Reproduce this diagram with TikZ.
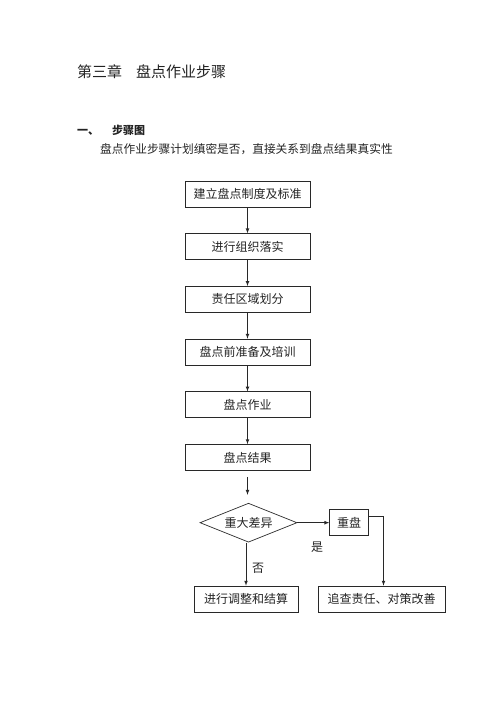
\documentclass[tikz,border=0pt]{standalone}
\usepackage{fontspec}
\setmainfont{Noto Sans CJK SC}
\usepackage{tikz}
\usetikzlibrary{positioning,shapes.geometric}
\definecolor{flowline}{RGB}{40,40,40}
\definecolor{flowtext}{RGB}{35,35,35}

\begin{document}
\begin{tikzpicture}[x=1pt, y=-1pt,
        node distance=26pt and 32pt,
        box/.style={draw=flowline, line width=0.7pt, minimum width=125pt, minimum height=26pt, inner sep=0pt, align=center, font=\fontsize{12}{14}\selectfont, text=flowtext},
        choice/.style={diamond, draw=flowline, line width=0.7pt, aspect=2.5, minimum width=97pt, minimum height=39pt, inner sep=0pt, font=\fontsize{12}{14}\selectfont, text=flowtext},
        lbl/.style={inner sep=0pt, font=\fontsize{12}{14}\selectfont, text=flowtext},
        arrow/.style={-latex, line width=0.7pt, flowline}
    ]
        \useasboundingbox (0,0) rectangle (500,707);

        % Headings
        \node (title) [anchor=west, inner sep=0pt, font=\fontsize{15}{18}\selectfont, text=flowtext] at (77,72) {第三章\hspace{14pt}盘点作业步骤};
        \node (section) [anchor=west, inner sep=0pt, font=\fontsize{11}{13}\selectfont\bfseries, text=flowtext] at (77,130) {一、\hspace{13pt}步骤图};
        \node (intro) [anchor=west, inner sep=0pt, font=\fontsize{11.7}{14}\selectfont, text=flowtext] at (100,149) {盘点作业步骤计划缜密是否，直接关系到盘点结果真实性};

        % Nodes
        \node (rules) [box] at (247.5,194) {建立盘点制度及标准};
        \node (organize) [box, below=of rules] {进行组织落实};
        \node (zones) [box, below=of organize] {责任区域划分};
        \node (prepare) [box, below=of zones] {盘点前准备及培训};
        \node (count) [box, below=of prepare] {盘点作业};
        \node (result) [box, below=of count] {盘点结果};
        \node (diff) [choice, below=32pt of result, xshift=1pt] {重大差异};
        \node (recount) [box, minimum width=39pt, right=of diff] {重盘};
        \node (adjust) [box, minimum width=104pt] at (246,599) {进行调整和结算};
        \node (trace) [box, minimum width=127pt] at (381.5,599) {追查责任、对策改善};

        % Arrows
        \draw [arrow] (rules) -- (organize);
        \draw [arrow] (organize) -- (zones);
        \draw [arrow] (zones) -- (prepare);
        \draw [arrow] (prepare) -- (count);
        \draw [arrow] (count) -- (result);
        \draw [arrow, shorten <=6pt, shorten >=8pt] (result) -- (result |- diff.north);
        \draw [arrow] (diff.south -| adjust.north) -- (adjust);
        \draw [arrow] (diff) -- (recount);
        \draw [arrow] ([yshift=6pt]recount.east) -| ([xshift=2pt]trace.north);

        % Labels
        \node (no) [lbl] at (258,568) {否};
        \node (yes) [lbl] at (317,547) {是};
    \end{tikzpicture}
\end{document}
